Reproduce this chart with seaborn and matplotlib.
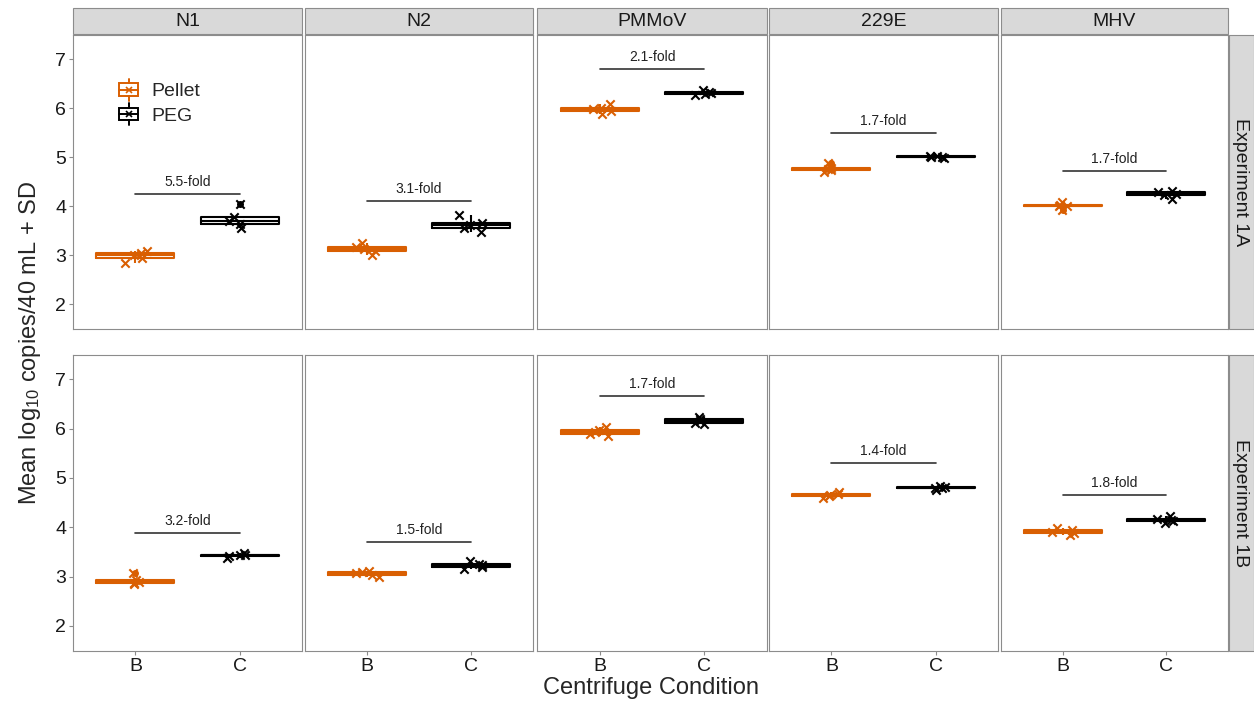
import matplotlib
matplotlib.use("Agg")
import matplotlib.pyplot as plt
from matplotlib.patches import Rectangle
from matplotlib.lines import Line2D
from matplotlib.legend_handler import HandlerBase
import numpy as np
import pandas as pd
import seaborn as sns

# data
targets = ["N1", "N2", "PMMoV", "229E", "MHV"]
experiments = ["Experiment 1A", "Experiment 1B"]
conditions = ["B", "C"]
methods = ["Pellet", "PEG"]

pellet_1a = [[2.84, 2.94, 2.99, 3.05, 3.09],
             [3.00, 3.08, 3.12, 3.17, 3.25],
             [5.87, 5.93, 5.97, 6.00, 6.09],
             [4.69, 4.74, 4.76, 4.78, 4.88],
             [3.92, 3.99, 4.01, 4.03, 4.08]]
peg_1a = [[3.55, 3.63, 3.70, 3.77, 4.04],
          [3.47, 3.55, 3.61, 3.66, 3.81],
          [6.27, 6.28, 6.30, 6.32, 6.37],
          [4.97, 4.99, 5.01, 5.02, 5.03],
          [4.15, 4.22, 4.25, 4.28, 4.31]]
pellet_1b = [[2.84, 2.87, 2.89, 2.92, 3.07],
             [2.99, 3.03, 3.07, 3.09, 3.11],
             [5.85, 5.89, 5.93, 5.97, 6.03],
             [4.60, 4.63, 4.65, 4.67, 4.72],
             [3.84, 3.88, 3.91, 3.94, 3.99]]
peg_1b = [[3.38, 3.41, 3.43, 3.44, 3.47],
          [3.15, 3.20, 3.23, 3.26, 3.32],
          [6.10, 6.12, 6.16, 6.19, 6.23],
          [4.76, 4.79, 4.80, 4.82, 4.84],
          [4.08, 4.12, 4.15, 4.17, 4.22]]

fold_labels_1a = ["5.5-fold", "3.1-fold", "2.1-fold", "1.7-fold", "1.7-fold"]
fold_y_1a = [4.24, 4.11, 6.80, 5.50, 4.72]
fold_labels_1b = ["3.2-fold", "1.5-fold", "1.7-fold", "1.4-fold", "1.8-fold"]
fold_y_1b = [3.88, 3.70, 6.66, 5.30, 4.65]

rows = []
for exp, pel, peg in [(experiments[0], pellet_1a, peg_1a), (experiments[1], pellet_1b, peg_1b)]:
    for t, pv, gv in zip(targets, pel, peg):
        for v in pv:
            rows.append((exp, t, "B", "Pellet", v))
        for v in gv:
            rows.append((exp, t, "C", "PEG", v))
df = pd.DataFrame(rows, columns=["experiment", "target", "condition", "method", "value"])

folds = {experiments[0]: (fold_labels_1a, fold_y_1a), experiments[1]: (fold_labels_1b, fold_y_1b)}
pal = {"Pellet": "#D95F02", "PEG": "black"}


# boxplot-like legend key (box, whiskers, median, x point)
class BoxKey(HandlerBase):
    def create_artists(self, legend, orig_handle, xdescent, ydescent, width, height, fontsize, trans):
        col = orig_handle.get_color()
        x0, y0 = -xdescent, -ydescent
        cx = x0 + width / 2
        arts = [Rectangle((x0 + 0.05 * width, y0 + 0.1 * height), 0.9 * width, 0.8 * height,
                          facecolor="white", edgecolor=col, lw=1.4, transform=trans),
                Line2D([cx, cx], [y0 - 0.2 * height, y0 + 0.1 * height], color=col, lw=1.4, transform=trans),
                Line2D([cx, cx], [y0 + 0.9 * height, y0 + 1.2 * height], color=col, lw=1.4, transform=trans),
                Line2D([x0 + 0.05 * width, x0 + 0.95 * width], [y0 + 0.5 * height] * 2, color=col, lw=1.4,
                       transform=trans),
                Line2D([cx], [y0 + 0.5 * height], marker="x", ls="", markersize=5, color=col,
                       markeredgewidth=1.2, transform=trans)]
        return arts


sns.set_style("white")
plt.rcParams["font.family"] = ["Liberation Sans", "DejaVu Sans"]
plt.rcParams["mathtext.fontset"] = "custom"
plt.rcParams["mathtext.rm"] = "Liberation Sans"
plt.rcParams["mathtext.default"] = "regular"

W, H = 1254, 704
fig = plt.figure(figsize=(W / 100, H / 100), dpi=100)

col_x = [(73, 302), (305, 533), (537, 767), (769, 998), (1001, 1228)]
row_y = [(35, 329), (355, 651)]
edge = "#8c8c8c"
strip_fill = "#d9d9d9"

np.random.seed(7)
for r, exp in enumerate(experiments):
    y0, y1 = row_y[r]
    for c, t in enumerate(targets):
        x0, x1 = col_x[c]
        ax = fig.add_axes([x0 / W, 1 - y1 / H, (x1 - x0) / W, (y1 - y0) / H])
        sub = df[(df.experiment == exp) & (df.target == t)]
        for m in methods:
            sm = sub[sub.method == m]
            sns.boxplot(data=sm, x="condition", y="value", order=conditions, color=pal[m],
                        fill=False, width=0.75, linewidth=1.5, showcaps=False,
                        flierprops=dict(marker="o", markersize=4, markerfacecolor=pal[m],
                                        markeredgecolor=pal[m]), ax=ax)
            sns.stripplot(data=sm, x="condition", y="value", order=conditions, color=pal[m],
                          marker="x", size=6, linewidth=1.5, jitter=0.12, ax=ax)
        labs, ys = folds[exp]
        ax.plot([0, 1], [ys[c], ys[c]], color="#333333", lw=1.2)
        ax.text(0.5, ys[c] + 0.1, labs[c], ha="center", va="bottom", fontsize=10, color="#222222")

        ax.set_xlim(-0.6, 1.6)
        ax.set_ylim(1.49, 7.49)
        ax.set_yticks([2, 3, 4, 5, 6, 7])
        ax.set_xlabel("")
        ax.set_ylabel("")
        for s in ax.spines.values():
            s.set_color(edge)
            s.set_linewidth(0.8)
        ax.tick_params(axis="both", length=3, color=edge, labelsize=14, labelcolor="#1a1a1a", pad=2)
        if c != 0:
            ax.tick_params(axis="y", left=False, labelleft=False)
        else:
            ax.tick_params(axis="y", left=True)
        if r != 1:
            ax.tick_params(axis="x", bottom=False, labelbottom=False)
        else:
            ax.tick_params(axis="x", bottom=True)

        if r == 0 and c == 0:
            handles = [Line2D([], [], color=pal[m]) for m in methods]
            ax.legend(handles, methods, handler_map={Line2D: BoxKey()},
                      loc="upper left", bbox_to_anchor=(0.12, 0.9), frameon=False,
                      fontsize=14, handlelength=1.1, handleheight=0.85, handletextpad=0.6,
                      labelspacing=0.3)

        # top strips
        if r == 0:
            fig.patches.append(Rectangle((x0 / W, 1 - 34 / H), (x1 - x0) / W, 26 / H,
                                         transform=fig.transFigure, facecolor=strip_fill,
                                         edgecolor=edge, lw=0.8))
            fig.text((x0 + x1) / 2 / W, 1 - 21 / H, t, ha="center", va="center", fontsize=14,
                     color="#1a1a1a")
    # right strips
    fig.patches.append(Rectangle((1229 / W, 1 - y1 / H), 25 / W, (y1 - y0) / H,
                                 transform=fig.transFigure, facecolor=strip_fill,
                                 edgecolor=edge, lw=0.8))
    fig.text(1241 / W, 1 - (y0 + y1) / 2 / H, exp, ha="center", va="center", rotation=-90,
             fontsize=14, color="#1a1a1a")

fig.text(30 / W, 1 - 343 / H, "Mean log$_{10}$ copies/40 mL + SD", rotation=90,
         ha="center", va="center", fontsize=17)
fig.text(651 / W, 1 - 688 / H, "Centrifuge Condition", ha="center", va="center", fontsize=17)

fig.savefig("out.png", dpi=100)
